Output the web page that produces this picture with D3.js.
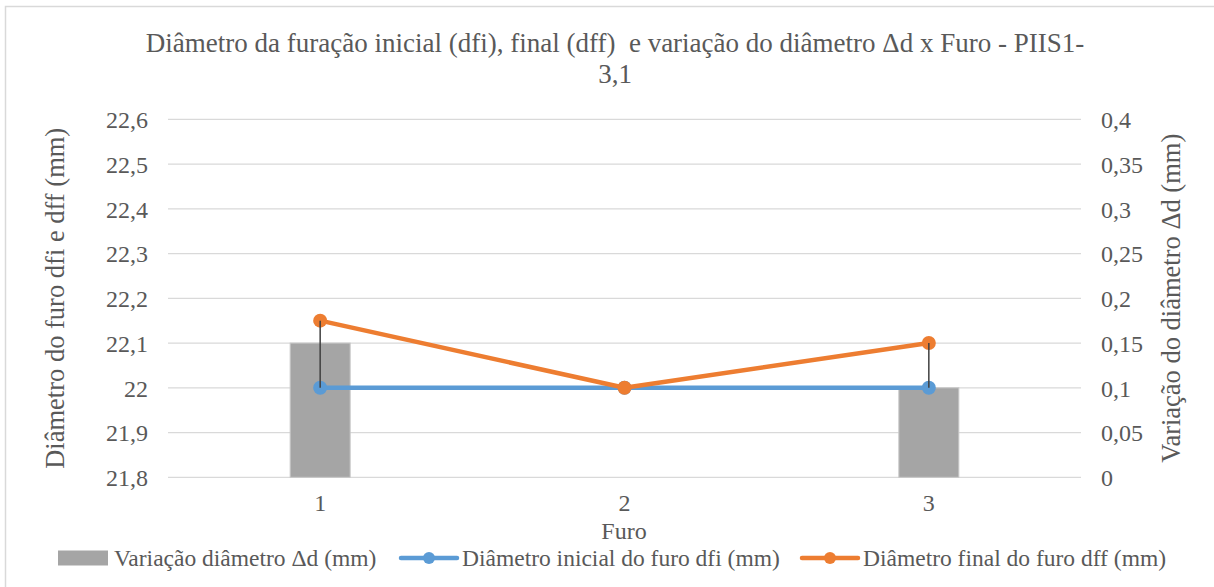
<!DOCTYPE html>
<html><head><meta charset="utf-8">
<script src="https://cdn.jsdelivr.net/npm/d3@7"></script>
<style>body{margin:0;background:#fff}svg{display:block}</style>
</head><body><svg id="c" width="1214" height="587"></svg>
<script>
const categories = ["1","2","3"];
const deltaD = [0.15, 0, 0.1];
const dfi = [22, 22, 22];
const dff = [22.15, 22.0, 22.1];
const leftTicks = [21.8,21.9,22,22.1,22.2,22.3,22.4,22.5,22.6];
const rightTicks = [0,0.05,0.1,0.15,0.2,0.25,0.3,0.35,0.4];
const title = ["Diâmetro da furação inicial (dfi), final (dff)  e variação do diâmetro Δd x Furo - PIIS1-","3,1"];
const legendLabels = ["Variação diâmetro Δd (mm)","Diâmetro inicial do furo dfi (mm)","Diâmetro final do furo dff (mm)"];

const FONT = "'Liberation Serif', 'Times New Roman', 'DejaVu Serif', serif";
const svg = d3.select("#c");
const L=168, R=1081, T=119.3, B=477.3;
const fmt = v => String(+v.toFixed(2)).replace(".",",");

svg.append("rect").attr("x",5.5).attr("y",6.5).attr("width",1230).attr("height",620)
  .attr("fill","#fff").attr("stroke","#d9d9d9").attr("stroke-width",1.5);

const x = d3.scaleBand().domain(categories).range([L,R]);
const yL = d3.scaleLinear().domain([21.8,22.6]).range([B,T]);
const yR = d3.scaleLinear().domain([0,0.4]).range([B,T]);

svg.append("g").selectAll("line").data(leftTicks).join("line")
  .attr("x1",L).attr("x2",R).attr("y1",d=>yL(d)).attr("y2",d=>yL(d))
  .attr("stroke","#d9d9d9").attr("stroke-width",1.2);

function styleAxis(g){
  g.attr("font-family",FONT);
  g.select(".domain").remove();
  g.selectAll("text").attr("font-size",24).attr("dy","0.35em")
    .style("fill","#595959").style("font-family",FONT);
}
styleAxis(svg.append("g").attr("transform",`translate(${L-20},0)`)
  .call(d3.axisLeft(yL).tickValues(leftTicks).tickFormat(fmt).tickSize(0).tickPadding(0)));
styleAxis(svg.append("g").attr("transform",`translate(${R+20},0)`)
  .call(d3.axisRight(yR).tickValues(rightTicks).tickFormat(fmt).tickSize(0).tickPadding(0)));
styleAxis(svg.append("g").attr("transform",`translate(0,${B+25})`)
  .call(d3.axisBottom(x).tickSize(0).tickPadding(0)));

const bw = 60;
svg.append("g").selectAll("rect").data(categories.map((c,i)=>({c,v:deltaD[i]})).filter(d=>d.v>0)).join("rect")
  .attr("x",d=>x(d.c)+x.bandwidth()/2-bw/2).attr("width",bw)
  .attr("y",d=>yR(d.v)).attr("height",d=>yR(0)-yR(d.v))
  .attr("fill","#a5a5a5").attr("stroke","#c8c8c8").attr("stroke-width",1);

const cx = c => x(c)+x.bandwidth()/2;
function series(vals,color){
  const pts = categories.map((c,i)=>[cx(c),yL(vals[i])]);
  svg.append("path").attr("d",d3.line()(pts)).attr("fill","none").attr("stroke",color)
    .attr("stroke-width",4.5).attr("stroke-linejoin","round").attr("stroke-linecap","round");
  svg.append("g").selectAll("circle").data(pts).join("circle")
    .attr("cx",d=>d[0]).attr("cy",d=>d[1]).attr("r",7).attr("fill",color);
}
series(dfi,"#5b9bd5");
series(dff,"#ed7d31");
svg.append("g").selectAll("line").data(categories.map((c,i)=>({c,a:dfi[i],b:dff[i]})).filter(d=>d.a!==d.b)).join("line")
  .attr("x1",d=>cx(d.c)).attr("x2",d=>cx(d.c)).attr("y1",d=>yL(d.a)).attr("y2",d=>yL(d.b))
  .attr("stroke","#404040").attr("stroke-width",1.5);

function txt(fs){ return svg.append("text").style("font-family",FONT).style("fill","#595959").attr("font-size",fs); }
txt(27).attr("x",615).attr("y",52).attr("text-anchor","middle").style("white-space","pre").text(title[0]);
txt(27).attr("x",615).attr("y",83).attr("text-anchor","middle").text(title[1]);
txt(26.5).attr("transform",`translate(64,${(T+B)/2}) rotate(-90)`).attr("text-anchor","middle").text("Diâmetro do furo dfi e dff (mm)");
txt(26.5).attr("transform",`translate(1180,${(T+B)/2}) rotate(-90)`).attr("text-anchor","middle").text("Variação do diâmetro Δd (mm)");
txt(24).attr("x",624).attr("y",538.5).attr("text-anchor","middle").text("Furo");

const ly = 558;
svg.append("rect").attr("x",58).attr("y",ly-7.5).attr("width",50).attr("height",15).attr("fill","#a5a5a5");
txt(23.5).attr("x",114).attr("y",ly).attr("dy","0.35em").text(legendLabels[0]);
[[401,"#5b9bd5",1],[802,"#ed7d31",2]].forEach(([lx,col,i])=>{
  svg.append("line").attr("x1",lx).attr("x2",lx+56).attr("y1",ly).attr("y2",ly).attr("stroke",col).attr("stroke-width",4.5).attr("stroke-linecap","round");
  svg.append("circle").attr("cx",lx+28).attr("cy",ly).attr("r",6).attr("fill",col);
  txt(23.5).attr("x",lx+61).attr("y",ly).attr("dy","0.35em").text(legendLabels[i]);
});
</script></body></html>
